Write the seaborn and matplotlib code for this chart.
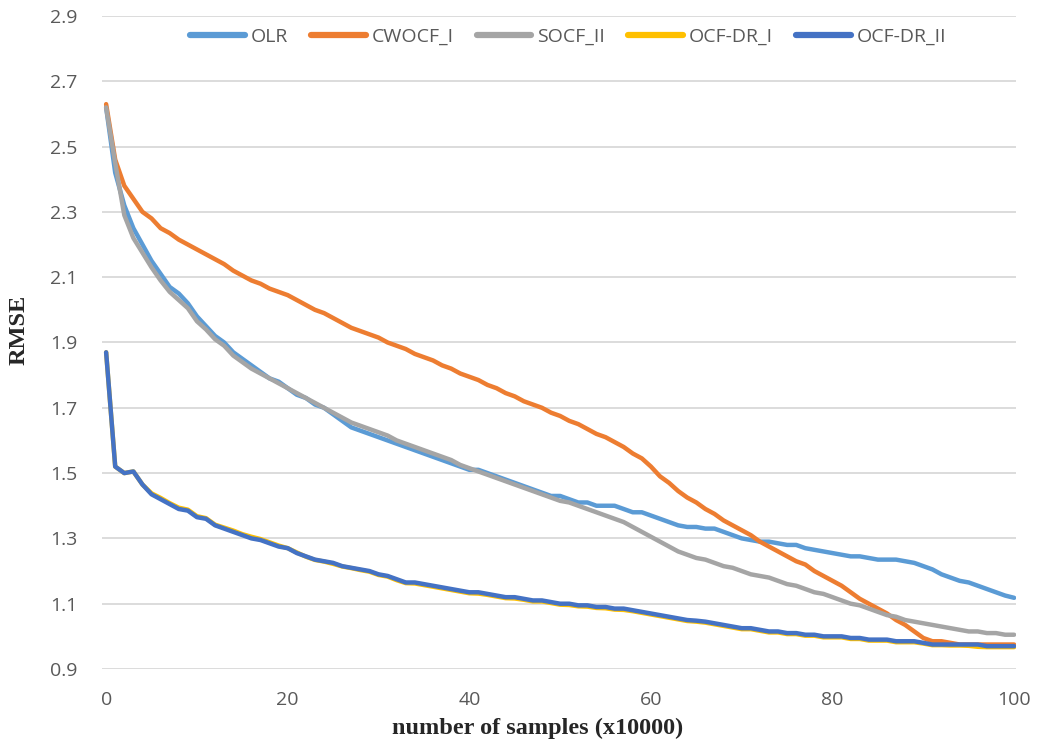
import numpy as np
import pandas as pd
import matplotlib
matplotlib.use("Agg")
import matplotlib.pyplot as plt
import seaborn as sns
from matplotlib.lines import Line2D

samples = list(range(0, 101))

olr = [2.62, 2.42, 2.32, 2.25, 2.20, 2.15, 2.11, 2.07, 2.05, 2.02,
       1.98, 1.95, 1.92, 1.90, 1.87, 1.85, 1.83, 1.81, 1.79, 1.78,
       1.76, 1.74, 1.73, 1.71, 1.70, 1.68, 1.66, 1.64, 1.63, 1.62,
       1.61, 1.60, 1.59, 1.58, 1.57, 1.56, 1.55, 1.54, 1.53, 1.52,
       1.51, 1.51, 1.50, 1.49, 1.48, 1.47, 1.46, 1.45, 1.44, 1.43,
       1.43, 1.42, 1.41, 1.41, 1.40, 1.40, 1.40, 1.39, 1.38, 1.38,
       1.37, 1.36, 1.35, 1.34, 1.335, 1.335, 1.33, 1.33, 1.32, 1.31,
       1.30, 1.295, 1.29, 1.29, 1.285, 1.28, 1.28, 1.27, 1.265, 1.26,
       1.255, 1.25, 1.245, 1.245, 1.24, 1.235, 1.235, 1.235, 1.23, 1.225,
       1.215, 1.205, 1.19, 1.18, 1.17, 1.165, 1.155, 1.145, 1.135, 1.125,
       1.118]

cwocf_i = [2.63, 2.46, 2.38, 2.34, 2.30, 2.28, 2.25, 2.235, 2.215, 2.20,
           2.185, 2.17, 2.155, 2.14, 2.12, 2.105, 2.09, 2.08, 2.065, 2.055,
           2.045, 2.03, 2.015, 2.00, 1.99, 1.975, 1.96, 1.945, 1.935, 1.925,
           1.915, 1.90, 1.89, 1.88, 1.865, 1.855, 1.845, 1.83, 1.82, 1.805,
           1.795, 1.785, 1.77, 1.76, 1.745, 1.735, 1.72, 1.71, 1.70, 1.685,
           1.675, 1.66, 1.65, 1.635, 1.62, 1.61, 1.595, 1.58, 1.56, 1.545,
           1.52, 1.49, 1.47, 1.445, 1.425, 1.41, 1.39, 1.375, 1.355, 1.34,
           1.325, 1.31, 1.29, 1.275, 1.26, 1.245, 1.23, 1.22, 1.20, 1.185,
           1.17, 1.155, 1.135, 1.115, 1.10, 1.085, 1.07, 1.05, 1.035, 1.015,
           0.995, 0.985, 0.985, 0.98, 0.975, 0.975, 0.975, 0.975, 0.975, 0.975,
           0.975]

socf_ii = [2.62, 2.45, 2.29, 2.22, 2.175, 2.13, 2.09, 2.055, 2.03, 2.005,
           1.965, 1.94, 1.91, 1.89, 1.86, 1.84, 1.82, 1.805, 1.79, 1.775,
           1.76, 1.745, 1.73, 1.715, 1.70, 1.685, 1.67, 1.655, 1.645, 1.635,
           1.625, 1.615, 1.60, 1.59, 1.58, 1.57, 1.56, 1.55, 1.54, 1.525,
           1.515, 1.505, 1.495, 1.485, 1.475, 1.465, 1.455, 1.445, 1.435, 1.425,
           1.415, 1.41, 1.40, 1.39, 1.38, 1.37, 1.36, 1.35, 1.335, 1.32,
           1.305, 1.29, 1.275, 1.26, 1.25, 1.24, 1.235, 1.225, 1.215, 1.21,
           1.20, 1.19, 1.185, 1.18, 1.17, 1.16, 1.155, 1.145, 1.135, 1.13,
           1.12, 1.11, 1.10, 1.095, 1.085, 1.075, 1.065, 1.06, 1.05, 1.045,
           1.04, 1.035, 1.03, 1.025, 1.02, 1.015, 1.015, 1.01, 1.01, 1.005,
           1.005]

ocf_dr_i = [1.87, 1.52, 1.50, 1.505, 1.465, 1.438, 1.424, 1.408, 1.394, 1.388,
            1.368, 1.362, 1.342, 1.333, 1.324, 1.313, 1.305, 1.298, 1.288, 1.278,
            1.27, 1.257, 1.244, 1.234, 1.229, 1.222, 1.214, 1.209, 1.203, 1.198,
            1.188, 1.183, 1.172, 1.163, 1.162, 1.157, 1.152, 1.147, 1.142, 1.137,
            1.132, 1.131, 1.127, 1.122, 1.117, 1.116, 1.112, 1.107, 1.107, 1.102,
            1.097, 1.096, 1.092, 1.091, 1.087, 1.086, 1.082, 1.081, 1.077, 1.072,
            1.067, 1.062, 1.057, 1.052, 1.047, 1.045, 1.042, 1.037, 1.032, 1.027,
            1.022, 1.022, 1.017, 1.012, 1.012, 1.007, 1.007, 1.002, 1.002, 0.997,
            0.997, 0.997, 0.992, 0.992, 0.987, 0.987, 0.987, 0.982, 0.982, 0.982,
            0.978, 0.973, 0.973, 0.972, 0.972, 0.971, 0.968, 0.967, 0.967, 0.967,
            0.967]

ocf_dr_ii = [1.87, 1.52, 1.50, 1.505, 1.465, 1.435, 1.42, 1.405, 1.39, 1.385,
             1.365, 1.36, 1.34, 1.33, 1.32, 1.31, 1.30, 1.295, 1.285, 1.275,
             1.27, 1.255, 1.245, 1.235, 1.23, 1.225, 1.215, 1.21, 1.205, 1.20,
             1.19, 1.185, 1.175, 1.165, 1.165, 1.16, 1.155, 1.15, 1.145, 1.14,
             1.135, 1.135, 1.13, 1.125, 1.12, 1.12, 1.115, 1.11, 1.11, 1.105,
             1.10, 1.10, 1.095, 1.095, 1.09, 1.09, 1.085, 1.085, 1.08, 1.075,
             1.07, 1.065, 1.06, 1.055, 1.05, 1.048, 1.045, 1.04, 1.035, 1.03,
             1.025, 1.025, 1.02, 1.015, 1.015, 1.01, 1.01, 1.005, 1.005, 1.0,
             1.0, 1.0, 0.995, 0.995, 0.99, 0.99, 0.99, 0.985, 0.985, 0.985,
             0.98, 0.975, 0.975, 0.975, 0.975, 0.975, 0.975, 0.97, 0.97, 0.97,
             0.97]

series_names = ["OLR", "CWOCF_I", "SOCF_II", "OCF-DR_I", "OCF-DR_II"]
series_values = [olr, cwocf_i, socf_ii, ocf_dr_i, ocf_dr_ii]
colors = ["#5B9BD5", "#ED7D31", "#A5A5A5", "#FFC000", "#4472C4"]

y_ticks = [0.9, 1.1, 1.3, 1.5, 1.7, 1.9, 2.1, 2.3, 2.5, 2.7, 2.9]
x_ticks = [0, 20, 40, 60, 80, 100]

frames = []
for name, vals in zip(series_names, series_values):
    frames.append(pd.DataFrame({"x": samples, "RMSE": vals, "series": name}))
df = pd.concat(frames, ignore_index=True)

sns.set_style("white")
plt.rcParams["font.family"] = ["Open Sans", "DejaVu Sans"]

fig = plt.figure(figsize=(10.37, 7.5), dpi=100)
ax = fig.add_axes([0.0984, 0.108, 0.8813, 0.8707])

sns.lineplot(data=df, x="x", y="RMSE", hue="series", hue_order=series_names,
             palette=colors, linewidth=3.2, ax=ax, legend=False,
             solid_capstyle="round", solid_joinstyle="round")

ax.set_xlim(-0.45, 100.2)
ax.set_ylim(0.9, 2.9)
ax.set_yticks(y_ticks)
ax.set_yticklabels([f"{v:.1f}" for v in y_ticks])
ax.set_xticks(x_ticks)
ax.set_xticklabels([str(v) for v in x_ticks])
ax.tick_params(axis="both", length=0, labelsize=14, colors="#595959")
ax.tick_params(axis="y", pad=18)
ax.tick_params(axis="x", pad=16)
ax.yaxis.grid(True, color="#D9D9D9", linewidth=1.3)
ax.xaxis.grid(False)
for s in ax.spines.values():
    s.set_visible(False)
ax.set_axisbelow(True)

serif = {"family": ["Liberation Serif", "DejaVu Serif"], "weight": "bold", "size": 17.5}
ax.set_xlabel("number of samples (x10000)", fontdict=serif)
ax.xaxis.set_label_coords(0.477, -0.075)
ax.set_ylabel("RMSE", fontdict=serif)
ax.yaxis.set_label_coords(-0.079, 0.52)

handles = [Line2D([0], [0], color=c, linewidth=4.5, solid_capstyle="round") for c in colors]
leg = ax.legend(handles, series_names, loc="center", bbox_to_anchor=(0.51, 0.968),
                ncol=5, frameon=False, fontsize=14, handlelength=2.8,
                handletextpad=0.3, columnspacing=1.2)
for t in leg.get_texts():
    t.set_color("#595959")

fig.savefig("out.png", dpi=100)
